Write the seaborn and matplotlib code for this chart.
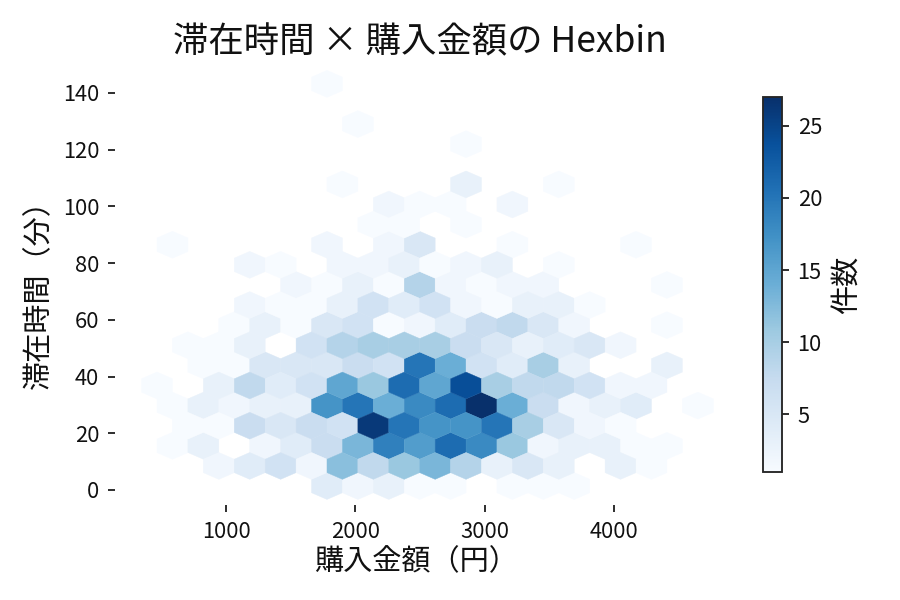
import matplotlib
matplotlib.use("Agg")
import matplotlib.pyplot as plt
import numpy as np
import pandas as pd
import seaborn as sns

# bin centres, rows alternate between the two lattices
amount_even = [347, 586, 825, 1064, 1303, 1542, 1781, 2020, 2259, 2498,
               2737, 2976, 3215, 3454, 3693, 3932, 4171, 4410, 4649]
amount_odd = [466, 705, 944, 1183, 1422, 1661, 1900, 2139, 2378, 2617,
              2856, 3095, 3334, 3573, 3812, 4051, 4290, 4529]
stay_levels = [1.4, 8.5, 15.6, 22.7, 29.8, 36.9, 43.9, 51.0, 58.1, 65.2, 72.3,
               79.4, 86.5, 93.6, 100.7, 107.8, 114.9, 122.0, 129.0, 136.1, 143.2]

# counts per stay level, bottom row first
counts_by_row = [
    [0, 0, 0, 0, 0, 0, 4, 2, 3, 1, 1, 0, 1, 1, 1, 0, 0, 0, 0],
    [0, 0, 2, 4, 6, 2, 12, 8, 11, 13, 9, 3, 5, 3, 0, 3, 1, 0],
    [0, 1, 3, 0, 2, 4, 7, 13, 19, 16, 21, 18, 11, 2, 3, 3, 1, 1, 0],
    [0, 1, 1, 7, 5, 7, 6, 26, 20, 17, 17, 20, 10, 5, 2, 1, 0, 0],
    [0, 1, 3, 2, 3, 3, 17, 20, 14, 18, 21, 27, 14, 7, 2, 3, 4, 0, 1],
    [1, 0, 3, 8, 4, 6, 15, 11, 21, 15, 24, 10, 8, 8, 6, 2, 2, 0],
    [0, 0, 1, 1, 5, 5, 5, 7, 6, 20, 14, 6, 4, 10, 3, 0, 0, 3, 0],
    [0, 1, 1, 3, 0, 6, 9, 10, 10, 10, 7, 5, 3, 4, 5, 2, 0, 0],
    [0, 0, 0, 1, 3, 1, 5, 6, 1, 2, 4, 7, 8, 5, 2, 0, 0, 1, 0],
    [0, 0, 0, 2, 1, 1, 3, 6, 4, 6, 2, 1, 3, 3, 1, 0, 0, 0],
    [0, 0, 0, 0, 0, 2, 1, 3, 1, 9, 2, 1, 2, 2, 0, 0, 0, 1, 0],
    [0, 0, 0, 2, 1, 0, 2, 2, 3, 1, 2, 3, 0, 1, 0, 0, 0, 0],
    [0, 1, 0, 0, 0, 0, 2, 0, 2, 5, 0, 0, 1, 0, 0, 0, 1, 0, 0],
    [0, 0, 0, 0, 0, 0, 0, 1, 1, 0, 1, 0, 0, 0, 0, 0, 0, 0],
    [0, 0, 0, 0, 0, 0, 0, 0, 2, 1, 1, 0, 2, 0, 0, 0, 0, 0, 0],
    [0, 0, 0, 0, 0, 0, 1, 0, 0, 0, 3, 0, 0, 1, 0, 0, 0, 0],
    [0, 0, 0, 0, 0, 0, 0, 0, 0, 0, 0, 0, 0, 0, 0, 0, 0, 0, 0],
    [0, 0, 0, 0, 0, 0, 0, 0, 0, 0, 1, 0, 0, 0, 0, 0, 0, 0],
    [0, 0, 0, 0, 0, 0, 0, 1, 0, 0, 0, 0, 0, 0, 0, 0, 0, 0, 0],
    [0, 0, 0, 0, 0, 0, 0, 0, 0, 0, 0, 0, 0, 0, 0, 0, 0, 0],
    [0, 0, 0, 0, 0, 0, 1, 0, 0, 0, 0, 0, 0, 0, 0, 0, 0, 0, 0],
]

rows = []
for i, row in enumerate(counts_by_row):
    amounts = amount_even if i % 2 == 0 else amount_odd
    for amount, n in zip(amounts, row):
        if n > 0:
            rows.append((amount, stay_levels[i], n))
df = pd.DataFrame(rows, columns=["amount", "stay", "n"])

sns.set_theme(style="ticks")
plt.rcParams["font.family"] = ["Noto Sans CJK JP", "DejaVu Sans"]
plt.rcParams["text.color"] = "#111111"
plt.rcParams["axes.labelcolor"] = "#111111"
plt.rcParams["xtick.labelcolor"] = "#111111"
plt.rcParams["ytick.labelcolor"] = "#111111"

fig = plt.figure(figsize=(6, 4), dpi=150)
ax = fig.add_axes([115 / 900, 1 - 505 / 600, (724 - 115) / 900, (505 - 60) / 600])

hb = ax.hexbin(df["amount"], df["stay"], C=df["n"], reduce_C_function=np.sum,
               gridsize=(18, 10), extent=(347, 4649, 1.4, 143.2),
               cmap="Blues", vmin=1, vmax=27, edgecolors="face", linewidths=0.2)

ax.set_xlim(1000 + (115 - 226) / 0.1293, 1000 + (724 - 226) / 0.1293)
ax.set_ylim((490 - 505) / 2.836, (490 - 60) / 2.836)
ax.set_xticks([1000, 2000, 3000, 4000])
ax.set_yticks([0, 20, 40, 60, 80, 100, 120, 140])
ax.tick_params(labelsize=10.5, length=3.5, width=0.9, pad=4)
sns.despine(ax=ax, left=True, bottom=True)

ax.set_title("滞在時間 × 購入金額の Hexbin", fontsize=17, pad=2)
ax.set_xlabel("購入金額（円）", fontsize=14, labelpad=2, x=0.495)
ax.set_ylabel("滞在時間（分）", fontsize=14, labelpad=4, y=0.489)

cax = fig.add_axes([763 / 900, 1 - 472 / 600, 19 / 900, 375 / 600])
cb = fig.colorbar(hb, cax=cax)
cb.set_ticks([5, 10, 15, 20, 25])
cb.ax.tick_params(labelsize=10.5, length=3.5, width=0.9, pad=4)
cb.outline.set_linewidth(0.9)
cb.set_label("件数", fontsize=14, labelpad=5)

fig.savefig("out.png", dpi=150)
